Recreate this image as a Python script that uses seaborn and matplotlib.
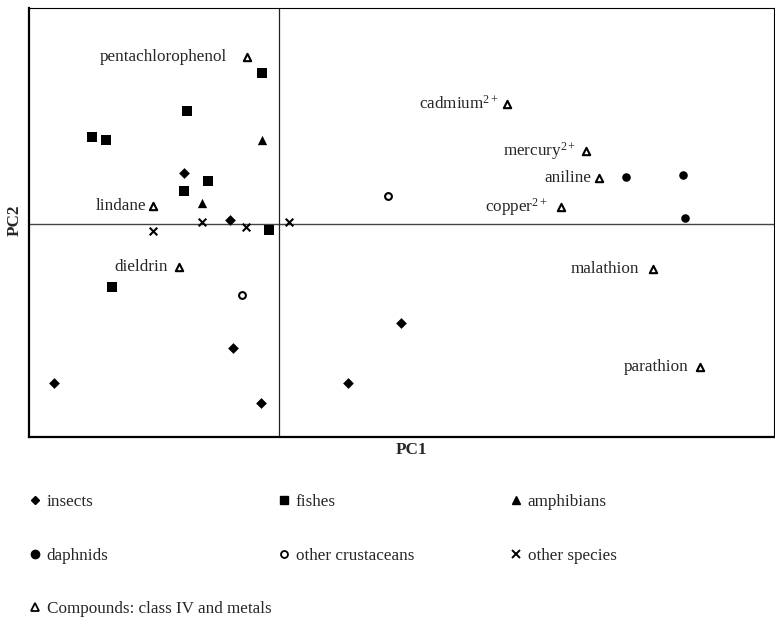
import matplotlib
matplotlib.use("Agg")
import matplotlib.pyplot as plt
from matplotlib.lines import Line2D
import seaborn as sns
import pandas as pd

# ---------------- data (PC scores) ----------------
insects_pc1 = [-0.95, -0.49, -0.46, -0.18, -2.25, 1.22, 0.69]
insects_pc2 = [0.51, 0.04, -1.24, -1.79, -1.59, -0.99, -1.59]

fishes_pc1 = [-0.17, -0.92, -1.87, -1.73, -0.71, -0.95, -0.10, -1.67]
fishes_pc2 = [1.51, 1.13, 0.87, 0.84, 0.43, 0.33, -0.06, -0.63]

amphibians_pc1 = [-0.17, -0.77]
amphibians_pc2 = [0.84, 0.21]

daphnids_pc1 = [3.48, 4.05, 4.07]
daphnids_pc2 = [0.47, 0.49, 0.06]

crustaceans_pc1 = [1.09, -0.37]
crustaceans_pc2 = [0.28, -0.71]

other_pc1 = [-0.77, -0.33, -1.26, 0.10]
other_pc2 = [0.02, -0.03, -0.07, 0.02]

compound_names = ["pentachlorophenol", "lindane", "dieldrin",
                  r"cadmium$^{\mathrm{2+}}$", r"mercury$^{\mathrm{2+}}$", "aniline",
                  r"copper$^{\mathrm{2+}}$", "malathion", "parathion"]
compound_pc1 = [-0.32, -1.26, -1.00, 2.29, 3.08, 3.21, 2.83, 3.75, 4.22]
compound_pc2 = [1.67, 0.18, -0.43, 1.20, 0.73, 0.46, 0.17, -0.45, -1.43]

legend_labels = ["insects", "fishes", "amphibians", "daphnids",
                 "other crustaceans", "other species",
                 "Compounds: class IV and metals"]

# ---------------- style ----------------
sns.set_style("white")
plt.rcParams["font.family"] = ["Liberation Serif", "DejaVu Serif"]
plt.rcParams["mathtext.fontset"] = "custom"
plt.rcParams["mathtext.rm"] = "Liberation Serif"
plt.rcParams["mathtext.it"] = "Liberation Serif:italic"
plt.rcParams["mathtext.bf"] = "Liberation Serif:bold"

FS = 12.3

fig = plt.figure(figsize=(7.75, 6.17), dpi=100)
ax = fig.add_axes([29 / 775, 1 - 437 / 617, 745 / 775, 429 / 617])

groups = [
    (insects_pc1, insects_pc2, "D", "black", 30, 0),
    (fishes_pc1, fishes_pc2, "s", "black", 50, 0),
    (amphibians_pc1, amphibians_pc2, "^", "black", 45, 0),
    (daphnids_pc1, daphnids_pc2, "o", "black", 38, 0),
    (crustaceans_pc1, crustaceans_pc2, "o", "white", 24, 1.5),
    (other_pc1, other_pc2, "x", "black", 30, 1.5),
    (compound_pc1, compound_pc2, "^", "white", 28, 1.5),
]
for x, y, m, fc, s, lw in groups:
    df = pd.DataFrame({"PC1": x, "PC2": y})
    if m == "x":
        sns.scatterplot(data=df, x="PC1", y="PC2", marker=m, color="black",
                        s=s, linewidth=lw, ax=ax, zorder=3)
    else:
        sns.scatterplot(data=df, x="PC1", y="PC2", marker=m, facecolor=fc,
                        edgecolor="black", s=s, linewidth=lw, ax=ax, zorder=3)

# compound labels (gap in points to the left of each marker)
label_gap = [14, 5, 8, 6, 7, 6, 10, 10, 8]
for name, x, y, g in zip(compound_names, compound_pc1, compound_pc2, label_gap):
    ax.annotate(name, (x, y), xytext=(-g, 0), textcoords="offset points",
                ha="right", va="center", fontsize=FS)

ax.axhline(0, color="#444444", lw=1.0, zorder=1)
ax.axvline(0, color="#222222", lw=0.9, zorder=1)

ax.set_xlim(-2.50, 4.96)
ax.set_ylim(-2.13, 2.16)
ax.set_xticks([])
ax.set_yticks([])
ax.set_xlabel("PC1", fontweight="bold", fontsize=FS)
ax.set_ylabel("PC2", fontweight="bold", fontsize=FS)
ax.xaxis.set_label_coords((411 - 29) / 745, -(450 - 437) / 429, transform=ax.transAxes)
ax.yaxis.set_label_coords(-(29 - 15) / 745, 0.505, transform=ax.transAxes)
ax.xaxis.label.set_va("center")
ax.yaxis.label.set_va("center")
for side in ["left", "bottom"]:
    ax.spines[side].set_linewidth(1.6)
for side in ["top", "right"]:
    ax.spines[side].set_linewidth(0.8)
for sp in ax.spines.values():
    sp.set_color("black")

# ---------------- legend (three columns) ----------------
def handle(m, fc, ms, mew=1.0):
    return Line2D([], [], ls="none", marker=m, markerfacecolor=fc,
                  markeredgecolor="black", color="black", markersize=ms,
                  markeredgewidth=mew)

hd = {
    "insects": handle("D", "black", 4.5),
    "fishes": handle("s", "black", 6),
    "amphibians": handle("^", "black", 6),
    "daphnids": handle("o", "black", 6),
    "other crustaceans": handle("o", "white", 5, 1.3),
    "other species": handle("x", "black", 5.5, 1.4),
    "Compounds: class IV and metals": handle("^", "white", 5.5, 1.3),
}
cols = [
    ([legend_labels[0], legend_labels[3], legend_labels[6]], 28 / 775),
    ([legend_labels[1], legend_labels[4]], 277 / 775),
    ([legend_labels[2], legend_labels[5]], 509 / 775),
]
for labs, xpos in cols:
    fig.legend([hd[l] for l in labs], labs, loc="upper left",
               bbox_to_anchor=(xpos, 1 - 494 / 617), frameon=False,
               fontsize=FS, handlelength=0.8, handletextpad=0.3,
               labelspacing=2.2, borderpad=0, borderaxespad=0)

fig.savefig("out.png", dpi=100)
